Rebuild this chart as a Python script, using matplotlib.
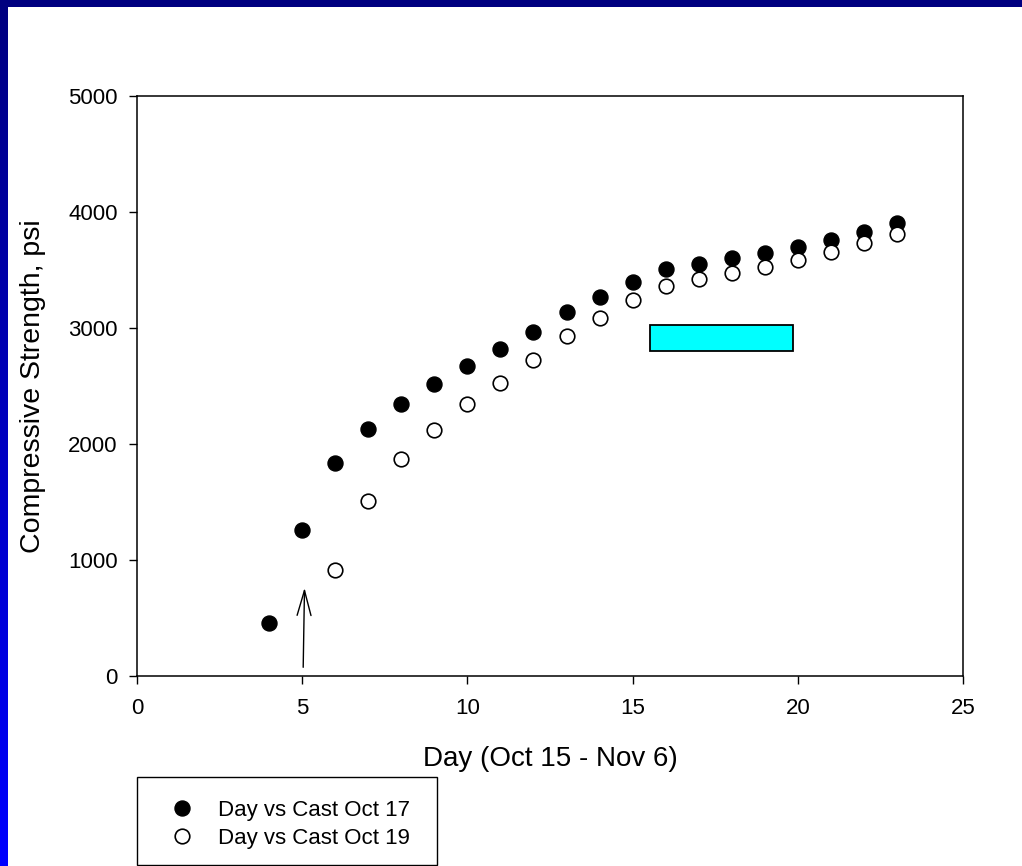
import matplotlib
matplotlib.use("Agg")
import matplotlib.pyplot as plt
import matplotlib.patches as mpatches
import numpy as np

plt.rcParams["font.family"] = ["Liberation Sans", "DejaVu Sans"]

# Data
days_oct17 = [4, 5, 6, 7, 8, 9, 10, 11, 12, 13, 14, 15, 16, 17, 18, 19, 20, 21, 22, 23]
strength_oct17 = [455, 1255, 1835, 2130, 2345, 2515, 2670, 2815, 2965, 3135, 3265, 3395,
                  3505, 3550, 3605, 3650, 3700, 3760, 3830, 3905]
days_oct19 = [6, 7, 8, 9, 10, 11, 12, 13, 14, 15, 16, 17, 18, 19, 20, 21, 22, 23]
strength_oct19 = [910, 1510, 1870, 2120, 2345, 2530, 2725, 2930, 3085, 3245, 3365, 3420,
                  3475, 3525, 3585, 3655, 3730, 3810]
labels = ["Day vs Cast Oct 17", "Day vs Cast Oct 19"]

x_ticks = [0, 5, 10, 15, 20, 25]
y_ticks = [0, 1000, 2000, 3000, 4000, 5000]

# cyan annotation box (data units) and arrow marking day 5
box_x = (15.53, 19.85)
box_y = (2800, 3025)
arrow_tail = (5.03, 75)
arrow_tip = (5.07, 760)

W, H = 1022, 866
fig = plt.figure(figsize=(W / 100, H / 100), dpi=100)
fig.patch.set_facecolor("white")

# slide-style border strips
top = fig.add_axes([0, 1 - 7 / H, 1, 7 / H])
top.set_axis_off()
top.add_patch(mpatches.Rectangle((0, 0), 1, 1, color="#000080", transform=top.transAxes))
left = fig.add_axes([0, 0, 8 / W, 1])
grad = np.linspace(0, 1, 256).reshape(-1, 1)
cmap = matplotlib.colors.LinearSegmentedColormap.from_list("edge", ["#000080", "#0000FF"])
left.imshow(grad, aspect="auto", cmap=cmap, extent=(0, 1, 0, 1))
left.set_axis_off()

ax = fig.add_axes([137 / W, 1 - 676 / H, (963 - 137) / W, (676 - 96) / H])

ax.plot(days_oct17, strength_oct17, "o", ms=10.8, mfc="black", mec="black", mew=1.0,
        label=labels[0], clip_on=False)
ax.plot(days_oct19, strength_oct19, "o", ms=10.5, mfc="white", mec="black", mew=1.2,
        label=labels[1], clip_on=False)

ax.add_patch(mpatches.Rectangle((box_x[0], box_y[0]), box_x[1] - box_x[0], box_y[1] - box_y[0],
                                facecolor="#00FFFF", edgecolor="black", lw=1.3, zorder=3))
ax.annotate("", xy=arrow_tip, xytext=arrow_tail,
            arrowprops=dict(arrowstyle="->,head_length=1.8,head_width=0.5", mutation_scale=10,
                            lw=1.0, color="black", shrinkA=0, shrinkB=0))

ax.set_xlim(0, 25)
ax.set_ylim(0, 5000)
ax.set_xticks(x_ticks)
ax.set_yticks(y_ticks)
ax.tick_params(direction="out", length=6, width=1, labelsize=16, colors="black")
ax.tick_params(axis="x", pad=10)
ax.tick_params(axis="y", pad=8)
for s in ax.spines.values():
    s.set_linewidth(1.1)
    s.set_color("black")

ax.set_xlabel("Day (Oct 15 - Nov 6)", fontsize=20, labelpad=19)
ax.set_ylabel("Compressive Strength, psi", fontsize=20.5, labelpad=16)

# legend box below the axes
fig.patches.append(mpatches.Rectangle((137 / W, 1 - 865 / H), 300 / W, 88 / H,
                                      transform=fig.transFigure, facecolor="none",
                                      edgecolor="black", lw=1.0))
handles, leg_labels = ax.get_legend_handles_labels()
fig.legend(handles, leg_labels, loc="upper left", bbox_to_anchor=(171 / W, 1 - 800 / H),
           frameon=False, fontsize=16, borderpad=0, handlelength=1.0, handletextpad=1.1,
           labelspacing=0.3, borderaxespad=0)

fig.savefig("out.png", dpi=100)
